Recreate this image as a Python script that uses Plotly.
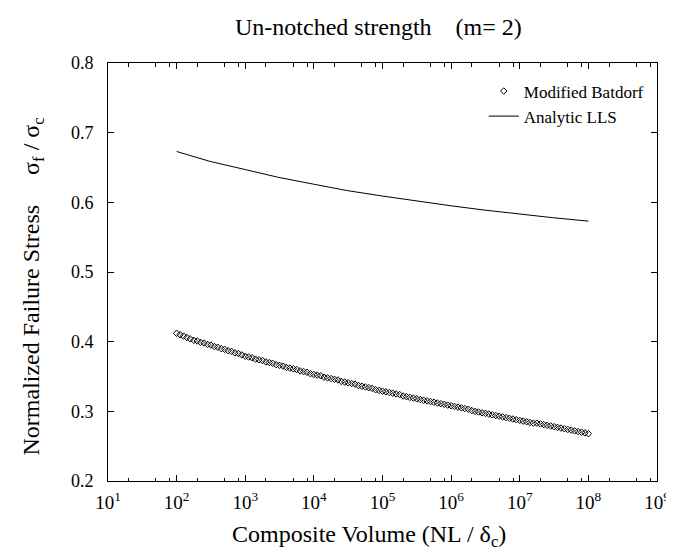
import plotly.graph_objects as go

# ---- data ----
batdorf_volume = [
    1.00e2, 1.12e2, 1.26e2, 1.41e2, 1.58e2, 1.78e2, 2.00e2, 2.24e2, 2.51e2, 2.82e2,
    3.16e2, 3.55e2, 3.98e2, 4.47e2, 5.01e2, 5.62e2, 6.31e2, 7.08e2, 7.94e2, 8.91e2,
    1.00e3, 1.12e3, 1.26e3, 1.41e3, 1.58e3, 1.78e3, 2.00e3, 2.24e3, 2.51e3, 2.82e3,
    3.16e3, 3.55e3, 3.98e3, 4.47e3, 5.01e3, 5.62e3, 6.31e3, 7.08e3, 7.94e3, 8.91e3,
    1.00e4, 1.12e4, 1.26e4, 1.41e4, 1.58e4, 1.78e4, 2.00e4, 2.24e4, 2.51e4, 2.82e4,
    3.16e4, 3.55e4, 3.98e4, 4.47e4, 5.01e4, 5.62e4, 6.31e4, 7.08e4, 7.94e4, 8.91e4,
    1.00e5, 1.12e5, 1.26e5, 1.41e5, 1.58e5, 1.78e5, 2.00e5, 2.24e5, 2.51e5, 2.82e5,
    3.16e5, 3.55e5, 3.98e5, 4.47e5, 5.01e5, 5.62e5, 6.31e5, 7.08e5, 7.94e5, 8.91e5,
    1.00e6, 1.12e6, 1.26e6, 1.41e6, 1.58e6, 1.78e6, 2.00e6, 2.24e6, 2.51e6, 2.82e6,
    3.16e6, 3.55e6, 3.98e6, 4.47e6, 5.01e6, 5.62e6, 6.31e6, 7.08e6, 7.94e6, 8.91e6,
    1.00e7, 1.12e7, 1.26e7, 1.41e7, 1.58e7, 1.78e7, 2.00e7, 2.24e7, 2.51e7, 2.82e7,
    3.16e7, 3.55e7, 3.98e7, 4.47e7, 5.01e7, 5.62e7, 6.31e7, 7.08e7, 7.94e7, 8.91e7,
    1.00e8,
]
batdorf_stress = [
    0.412, 0.410, 0.408, 0.406, 0.404, 0.402, 0.401, 0.399, 0.398, 0.396,
    0.395, 0.393, 0.392, 0.390, 0.389, 0.387, 0.386, 0.384, 0.383, 0.381,
    0.379, 0.378, 0.377, 0.375, 0.374, 0.373, 0.371, 0.370, 0.369, 0.367,
    0.366, 0.365, 0.363, 0.362, 0.361, 0.360, 0.358, 0.357, 0.356, 0.354,
    0.353, 0.352, 0.351, 0.349, 0.348, 0.347, 0.346, 0.345, 0.343, 0.342,
    0.341, 0.340, 0.339, 0.337, 0.336, 0.335, 0.334, 0.333, 0.331, 0.330,
    0.329, 0.328, 0.327, 0.326, 0.325, 0.324, 0.322, 0.321, 0.320, 0.319,
    0.318, 0.317, 0.316, 0.315, 0.314, 0.313, 0.312, 0.311, 0.310, 0.309,
    0.308, 0.307, 0.306, 0.305, 0.304, 0.303, 0.301, 0.300, 0.299, 0.298,
    0.297, 0.296, 0.295, 0.294, 0.293, 0.292, 0.291, 0.290, 0.289, 0.288,
    0.287, 0.286, 0.285, 0.284, 0.283, 0.283, 0.282, 0.281, 0.280, 0.279,
    0.278, 0.277, 0.276, 0.275, 0.274, 0.273, 0.272, 0.271, 0.270, 0.269,
    0.268,
]

lls_volume = [1e2, 3e2, 1e3, 3e3, 1e4, 3e4, 1e5, 3e5, 1e6, 3e6, 1e7, 3e7, 1e8]
lls_stress = [0.673, 0.659, 0.647, 0.636, 0.626, 0.617, 0.609, 0.602, 0.595,
              0.589, 0.583, 0.578, 0.573]

x_major_ticks = [1e1, 1e2, 1e3, 1e4, 1e5, 1e6, 1e7, 1e8, 1e9]
x_major_labels = ["10<sup>%d</sup>" % k for k in range(1, 10)]
x_minor_ticks = [m * 10 ** k for k in range(1, 9) for m in (2, 5, 8)]
y_ticks = [0.2, 0.3, 0.4, 0.5, 0.6, 0.7, 0.8]
y_labels = ["0.2", "0.3", "0.4", "0.5", "0.6", "0.7", "0.8"]

FONT = "Liberation Serif"

fig = go.Figure()
fig.add_trace(go.Scatter(
    x=batdorf_volume, y=batdorf_stress, mode="markers", name="Modified Batdorf",
    marker=dict(symbol="diamond-open", size=5, color="black", line=dict(width=1, color="black")),
))
fig.add_trace(go.Scatter(
    x=lls_volume, y=lls_stress, mode="lines", name="Analytic LLS",
    line=dict(color="black", width=1),
))
# invisible trace to activate the minor-tick axis
fig.add_trace(go.Scatter(x=[1e1, 1e9], y=[0.2, 0.2], xaxis="x2", mode="markers",
                         marker=dict(opacity=0), showlegend=False, hoverinfo="skip"))

fig.update_layout(
    width=674, height=551,
    margin=dict(l=100, r=14, t=55, b=78),
    paper_bgcolor="white", plot_bgcolor="white",
    font=dict(family=FONT, size=18, color="black"),
    xaxis=dict(
        type="log", range=[1, 9], tickvals=x_major_ticks, ticktext=x_major_labels,
        ticks="inside", ticklen=6, tickwidth=1, tickcolor="black",
        showline=True, linecolor="black", linewidth=1, mirror="ticks",
        showgrid=False, zeroline=False, tickfont=dict(size=19, family=FONT),
        ticklabeloverflow="allow", ticklabelstandoff=4,
    ),
    xaxis2=dict(
        type="log", range=[1, 9], overlaying="x", side="bottom", tickvals=x_minor_ticks,
        showticklabels=False, ticks="inside", ticklen=3.5, tickwidth=1, tickcolor="black",
        mirror="ticks", showline=False, showgrid=False, zeroline=False,
    ),
    yaxis=dict(
        range=[0.2, 0.8], tickvals=y_ticks, ticktext=y_labels,
        ticks="inside", ticklen=6, tickwidth=1, tickcolor="black",
        showline=True, linecolor="black", linewidth=1, mirror="ticks",
        showgrid=False, zeroline=False, ticklabelstandoff=10,
        tickfont=dict(size=18, family=FONT),
    ),
    legend=dict(x=0.985, y=0.975, xanchor="right", yanchor="top", bgcolor="rgba(0,0,0,0)",
                font=dict(size=17, family=FONT), tracegroupgap=0),
    showlegend=True,
    annotations=[
        dict(text="Un-notched strength &nbsp;&nbsp; (m= 2)", xref="paper", yref="paper",
             x=(376 - 100) / 560, y=1 + (55 - 19) / 418, xanchor="center", yanchor="middle",
             showarrow=False, font=dict(size=24, family=FONT)),
        dict(text="Composite Volume (NL / δ<sub>c</sub>)", xref="paper", yref="paper",
             x=(366 - 100) / 560, y=-(528 - 473) / 418, xanchor="center", yanchor="middle",
             showarrow=False, font=dict(size=24, family=FONT)),
        dict(text="Normalized Failure Stress &nbsp;&nbsp;&nbsp; σ<sub>f</sub> / σ<sub>c</sub>",
             xref="paper", yref="paper", textangle=-90,
             x=-(100 - 23) / 560, y=(473 - 279) / 418, xanchor="center", yanchor="middle",
             showarrow=False, font=dict(size=24, family=FONT)),
    ],
)

fig.write_html("out.html")
